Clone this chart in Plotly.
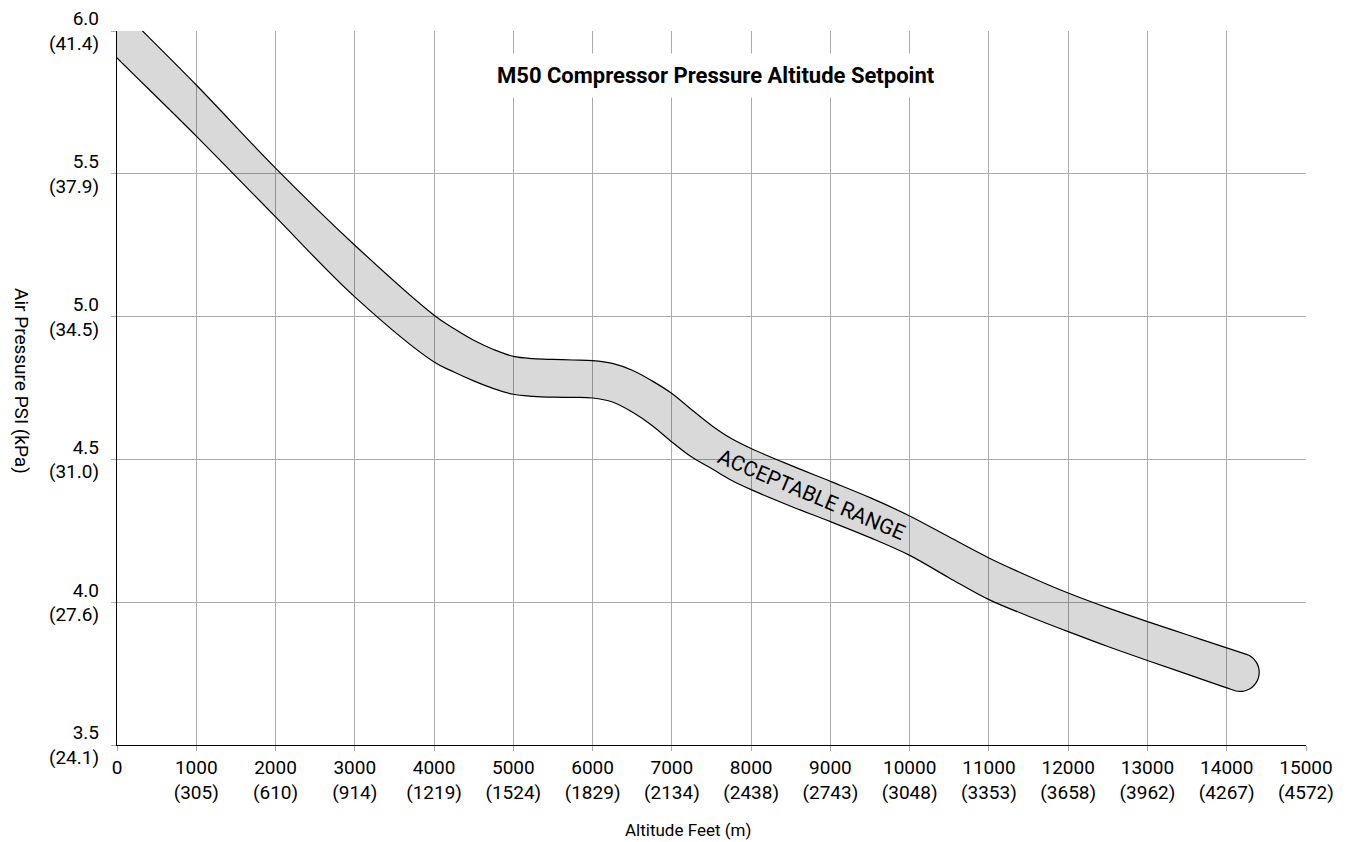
import math
import plotly.graph_objects as go

# ---------------- data ----------------
upper_ft = [-300, 0, 1000, 2000, 3000, 4000, 4250, 4500, 4750, 5000, 5250, 5500, 5750,
            6000, 6250, 6500, 6750, 7000, 7250, 7500, 7750, 8000, 8500, 9000, 9500,
            10000, 10500, 11000, 11500, 12000, 12500, 13000, 13500, 14000, 14220]
upper_psi = [6.177, 6.09, 5.811, 5.52, 5.25, 5.005, 4.958, 4.917, 4.885, 4.861, 4.853,
             4.850, 4.848, 4.846, 4.836, 4.812, 4.775, 4.731, 4.674, 4.619, 4.573,
             4.538, 4.479, 4.423, 4.366, 4.302, 4.228, 4.155, 4.091, 4.032, 3.980,
             3.932, 3.886, 3.840, 3.820]

lower_ft = [-300, 0, 1000, 2000, 3000, 4000, 4250, 4500, 4750, 5000, 5250, 5500, 5750,
            6000, 6250, 6500, 6750, 7000, 7250, 7500, 7750, 8000, 8500, 9000, 9500,
            10000, 10500, 11000, 11500, 12000, 12500, 13000, 13500, 14000, 14116]
lower_psi = [5.99, 5.906, 5.632, 5.349, 5.069, 4.841, 4.806, 4.775, 4.748, 4.728, 4.721,
             4.718, 4.717, 4.715, 4.701, 4.666, 4.619, 4.561, 4.508, 4.468, 4.427,
             4.394, 4.336, 4.282, 4.226, 4.164, 4.085, 4.009, 3.951, 3.897, 3.845,
             3.796, 3.748, 3.700, 3.689]

x_ticks = [0, 1000, 2000, 3000, 4000, 5000, 6000, 7000, 8000, 9000, 10000, 11000,
           12000, 13000, 14000, 15000]
x_meters = [None, 305, 610, 914, 1219, 1524, 1829, 2134, 2438, 2743, 3048, 3353,
            3658, 3962, 4267, 4572]
y_ticks = [3.5, 4.0, 4.5, 5.0, 5.5, 6.0]
y_kpa = [24.1, 27.6, 31.0, 34.5, 37.9, 41.4]

title_text = "M50 Compressor Pressure Altitude Setpoint"
band_label = "ACCEPTABLE RANGE"
band_label_pos = (8767, 4.376)

X_RANGE = [0, 15000]
Y_RANGE = [3.5, 6.0]

# ---------------- layout geometry ----------------
FIG_W, FIG_H = 1350, 842
OFF = 8  # page body margin
M_L, M_R, M_T, M_B = 109, 52, 23, 105
PW = FIG_W - M_L - M_R
PH = FIG_H - M_T - M_B

def to_px(ft, psi):
    return ((ft - X_RANGE[0]) / (X_RANGE[1] - X_RANGE[0]) * PW,
            (Y_RANGE[1] - psi) / (Y_RANGE[1] - Y_RANGE[0]) * PH)

def to_data(px, py):
    return (X_RANGE[0] + px / PW * (X_RANGE[1] - X_RANGE[0]),
            Y_RANGE[1] - py / PH * (Y_RANGE[1] - Y_RANGE[0]))

def paper_y(pix):
    return (M_T + PH - (pix - OFF)) / PH

def paper_x(pix):
    return (pix - OFF - M_L) / PW

# round end cap derived from the band's end points
ux, uy = to_px(upper_ft[-1], upper_psi[-1])
lx, ly = to_px(lower_ft[-1], lower_psi[-1])
cx, cy = (ux + lx) / 2, (uy + ly) / 2
r = math.hypot(ux - lx, uy - ly) / 2
a0 = math.atan2(uy - cy, ux - cx)
cap_x, cap_y = [], []
n = 14
for i in range(1, n):
    a = a0 + math.pi * i / n
    fx, fy = to_data(cx + r * math.cos(a), cy + r * math.sin(a))
    cap_x.append(fx)
    cap_y.append(fy)

poly_x = upper_ft + cap_x + lower_ft[::-1]
poly_y = upper_psi + cap_y + lower_psi[::-1]

FONT = "Roboto, Liberation Sans, Arial, sans-serif"

fig = go.Figure()
fig.add_trace(go.Scatter(
    x=poly_x, y=poly_y, mode="lines", fill="toself",
    fillcolor="rgba(0,0,0,0.15)",
    line=dict(color="black", width=1.2, shape="spline", smoothing=1.0),
    hoverinfo="skip", showlegend=False,
))

x_text = [("%d" % v) if m is None else ("%d<br>(%d)" % (v, m)) for v, m in zip(x_ticks, x_meters)]
y_text = ["%.1f<br>(%.1f)" % (v, k) for v, k in zip(y_ticks, y_kpa)]

fig.update_layout(
    width=FIG_W, height=FIG_H,
    margin=dict(l=M_L, r=M_R, t=M_T, b=M_B),
    paper_bgcolor="white", plot_bgcolor="white",
    font=dict(family=FONT, size=19, color="black"),
    showlegend=False,
    xaxis=dict(
        range=X_RANGE, tickvals=x_ticks, ticktext=x_text,
        showgrid=True, gridcolor="#ababab", gridwidth=1,
        showline=True, linecolor="black", linewidth=1.3,
        ticks="outside", ticklen=5, tickcolor="#ababab",
        zeroline=False, tickfont=dict(size=19), automargin=False,
        ticklabeloverflow="allow",
    ),
    yaxis=dict(
        range=Y_RANGE, tickvals=y_ticks, ticktext=y_text,
        showgrid=True, gridcolor="#ababab", gridwidth=1,
        showline=True, linecolor="black", linewidth=1.3,
        ticks="outside", ticklen=5, tickcolor="#ababab",
        zeroline=False, tickfont=dict(size=19), automargin=False,
        ticklabelstandoff=8, ticklabeloverflow="allow",
    ),
    annotations=[
        dict(text="<b>%s</b>" % title_text, xref="paper", yref="paper",
             x=paper_x(716), y=paper_y(75), xanchor="center", yanchor="middle",
             showarrow=False, font=dict(size=22, family=FONT),
             bgcolor="white", borderpad=9),
        dict(text=band_label, x=band_label_pos[0], y=band_label_pos[1],
             xref="x", yref="y", xanchor="center", yanchor="middle",
             showarrow=False, textangle=23,
             font=dict(size=21, family=FONT)),
        dict(text="Altitude Feet (m)", xref="paper", yref="paper",
             x=paper_x(688), y=paper_y(830), xanchor="center", yanchor="middle",
             showarrow=False, font=dict(size=17, family=FONT)),
        dict(text="Air Pressure PSI (kPa)", xref="paper", yref="paper",
             x=paper_x(22), y=paper_y(381), xanchor="center", yanchor="middle",
             showarrow=False, textangle=90,
             font=dict(size=19, family=FONT)),
    ],
)

fig.write_html("out.html")
